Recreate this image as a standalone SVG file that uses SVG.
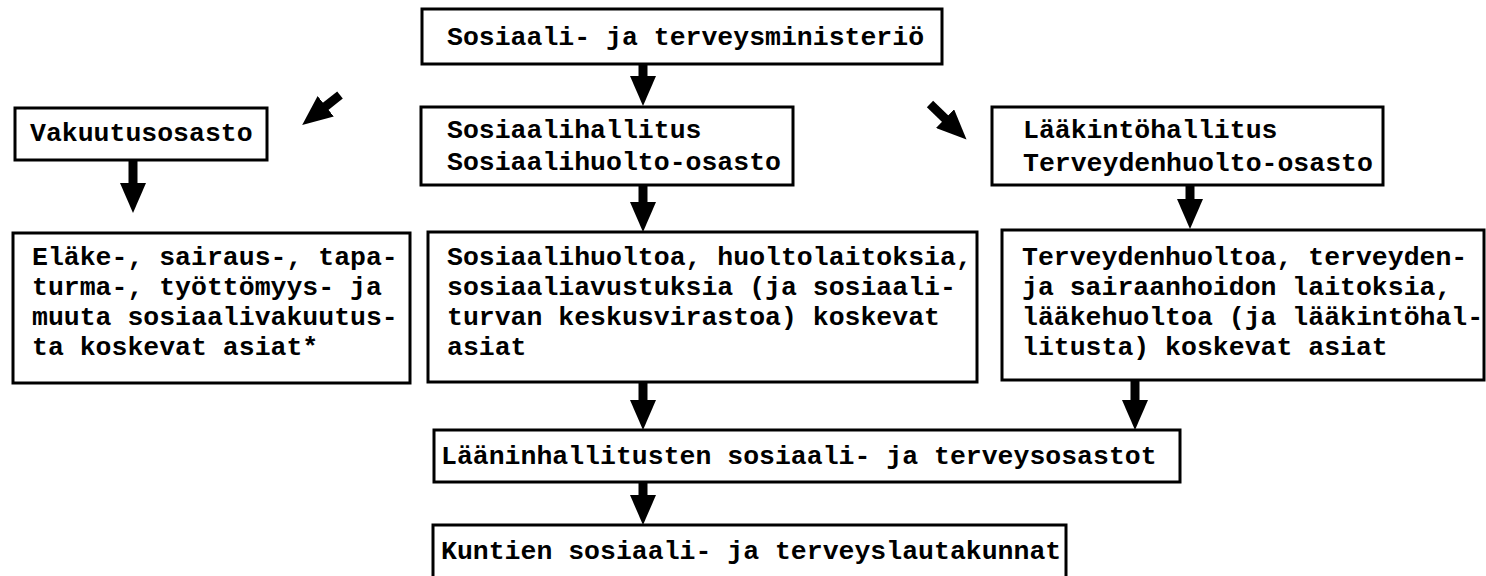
<svg xmlns="http://www.w3.org/2000/svg" width="1486" height="576" viewBox="0 0 1486 576">
  <style>
    .box { fill: #ffffff; stroke: #000000; stroke-width: 3; }
    .lbl { font-family: "Liberation Mono", "DejaVu Sans Mono", monospace; font-size: 26.5px; font-weight: bold; fill: #000000; }
    .arr { stroke: #000000; stroke-width: 9; fill: none; marker-end: url(#head); }
  </style>
  <defs>
    <marker id="head" markerUnits="userSpaceOnUse" markerWidth="32" markerHeight="26" refX="5" refY="13" orient="auto">
      <path d="M0,0 L30,13 L0,26 z" fill="#000000"/>
    </marker>
  </defs>

  <rect width="1486" height="576" fill="#ffffff"/>

  <g id="connectors">
    <line class="arr" x1="643" y1="64" x2="643" y2="81"/>
    <line class="arr" x1="340" y1="95" x2="321.8" y2="109.4"/>
    <line class="arr" x1="930" y1="104" x2="948.6" y2="122.1"/>
    <line class="arr" x1="133" y1="160" x2="133" y2="188"/>
    <line class="arr" x1="643" y1="185" x2="643" y2="207"/>
    <line class="arr" x1="1190" y1="185" x2="1190" y2="204"/>
    <line class="arr" x1="643" y1="382" x2="643" y2="405"/>
    <line class="arr" x1="1135" y1="380" x2="1135" y2="405"/>
    <line class="arr" x1="643" y1="482" x2="643" y2="500"/>
  </g>

  <g id="ministerio">
    <rect class="box" x="422" y="9" width="520" height="55"/>
    <text class="lbl" x="447" y="45">Sosiaali- ja terveysministeriö</text>
  </g>

  <g id="vakuutusosasto">
    <rect class="box" x="15" y="108" width="252" height="52"/>
    <text class="lbl" x="30" y="141">Vakuutusosasto</text>
  </g>

  <g id="sosiaalihallitus">
    <rect class="box" x="421" y="107" width="372" height="78"/>
    <text class="lbl" x="447" y="138">Sosiaalihallitus</text>
    <text class="lbl" x="447" y="170">Sosiaalihuolto-osasto</text>
  </g>

  <g id="laakintohallitus">
    <rect class="box" x="992" y="107" width="391" height="78"/>
    <text class="lbl" x="1023" y="138">Lääkintöhallitus</text>
    <text class="lbl" x="1023" y="171">Terveydenhuolto-osasto</text>
  </g>

  <g id="vakuutusasiat">
    <rect class="box" x="13" y="233" width="397" height="150"/>
    <text class="lbl" x="32" y="265">Eläke-, sairaus-, tapa-</text>
    <text class="lbl" x="32" y="295">turma-, työttömyys- ja</text>
    <text class="lbl" x="32" y="325">muuta sosiaalivakuutus-</text>
    <text class="lbl" x="32" y="355">ta koskevat asiat*</text>
  </g>

  <g id="sosiaalihuoltoasiat">
    <rect class="box" x="428" y="232" width="549" height="150"/>
    <text class="lbl" x="447" y="265">Sosiaalihuoltoa, huoltolaitoksia,</text>
    <text class="lbl" x="447" y="295">sosiaaliavustuksia (ja sosiaali-</text>
    <text class="lbl" x="447" y="325">turvan keskusvirastoa) koskevat</text>
    <text class="lbl" x="447" y="355">asiat</text>
  </g>

  <g id="terveydenhuoltoasiat">
    <rect class="box" x="1002" y="230" width="482" height="150"/>
    <text class="lbl" x="1022" y="265">Terveydenhuoltoa, terveyden-</text>
    <text class="lbl" x="1022" y="295">ja sairaanhoidon laitoksia,</text>
    <text class="lbl" x="1022" y="325">lääkehuoltoa (ja lääkintöhal-</text>
    <text class="lbl" x="1022" y="355">litusta) koskevat asiat</text>
  </g>

  <g id="laaninhallitukset">
    <rect class="box" x="434" y="430" width="746" height="52"/>
    <text class="lbl" x="441" y="464">Lääninhallitusten sosiaali- ja terveysosastot</text>
  </g>

  <g id="kunnat">
    <rect class="box" x="433" y="525" width="633" height="60"/>
    <text class="lbl" x="441" y="559">Kuntien sosiaali- ja terveyslautakunnat</text>
  </g>
</svg>
